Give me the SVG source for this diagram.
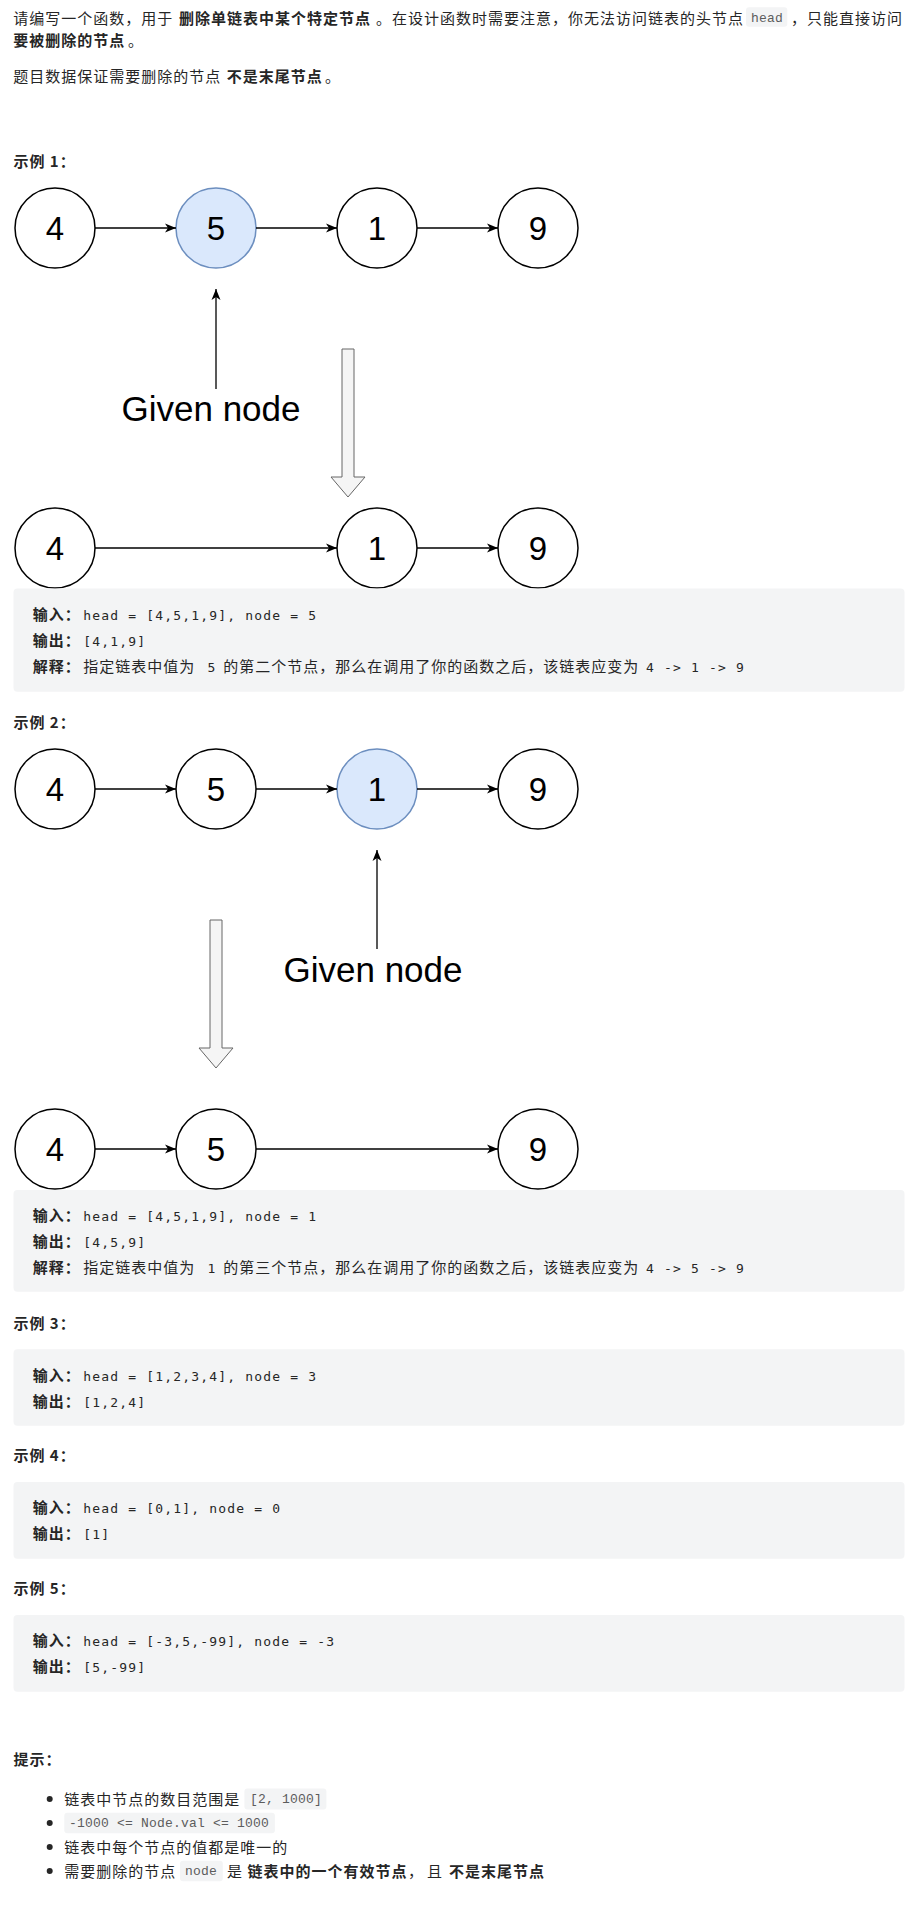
<svg xmlns="http://www.w3.org/2000/svg" width="913" height="1907" viewBox="0 0 913 1907">
<style>
.t{font-family:"Noto Sans CJK SC","Noto Sans",sans-serif;font-size:15px;letter-spacing:1px;fill:#262626}
.b{font-weight:bold}
.m{font-family:"DejaVu Sans Mono",monospace;font-size:13px;letter-spacing:1.17px;fill:#262626}
.c{font-family:"Liberation Mono",monospace;font-size:13px;letter-spacing:0.2px;fill:#5c5c5c}
.chip{fill:#f3f4f5}
.blk{fill:#f3f4f5}
.n circle{fill:#fff;stroke:#000;stroke-width:1.5}
.n.hl circle{fill:#dae8fc;stroke:#6c8ebf}
.num{font-family:"Liberation Sans",Arial,sans-serif;font-size:33px;text-anchor:middle;fill:#000}
.gn{font-family:"Liberation Sans",Arial,sans-serif;font-size:35px;text-anchor:middle;fill:#000}
.edge{stroke:#000;stroke-width:1.5;fill:none;marker-end:url(#ah)}
.ptr{stroke:#222;stroke-width:1.5;fill:none;marker-end:url(#ah)}
.big{fill:#f5f5f5;stroke:#666;stroke-width:1}
</style>
<defs>
<marker id="ah" viewBox="0 0 12 10" refX="11" refY="5" markerWidth="12" markerHeight="10" markerUnits="userSpaceOnUse" orient="auto"><path d="M0,0.5 L11,5 L0,9.5 L3,5 z" fill="#000"/></marker>
</defs>
<rect width="913" height="1907" fill="#fff"/>

<g id="intro">
<text class="t" x="13.3" y="24">请编写一个函数，用于</text>
<text class="t b" x="179" y="24">删除单链表中某个特定节点</text>
<text class="t" x="376" y="24">。在设计函数时需要注意，你无法访问链表的头节点</text>
<rect class="chip" x="746" y="7.3" width="41.3" height="19.4" rx="3"/>
<text class="c" x="751" y="21.5">head</text>
<text class="t" x="791" y="24">，</text>
<text class="t" x="807" y="24">只能直接访问</text>
<text class="t b" x="13.3" y="45.5">要被删除的节点</text>
<text class="t" x="128" y="45.5">。</text>
<text class="t" x="13.3" y="81.5">题目数据保证需要删除的节点</text>
<text class="t b" x="226.7" y="81.5">不是末尾节点</text>
<text class="t" x="325" y="81.5">。</text>
</g>

<g id="ex1-title"><text class="t b" x="13.4" y="166.7">示例 1：</text></g>

<g id="ex1-n4" class="n"><circle cx="55" cy="228" r="40"/><text class="num" x="55" y="239.8">4</text></g>
<g id="ex1-n5" class="n hl"><circle cx="216" cy="228" r="40"/><text class="num" x="216" y="239.8">5</text></g>
<g id="ex1-n1" class="n"><circle cx="377" cy="228" r="40"/><text class="num" x="377" y="239.8">1</text></g>
<g id="ex1-n9" class="n"><circle cx="538" cy="228" r="40"/><text class="num" x="538" y="239.8">9</text></g>
<g id="ex1-given"><text class="gn" x="211" y="420.7">Given node</text></g>
<g id="ex1-bigarrow"><polygon class="big" points="342,349 354,349 354,477 365,477 348,497 331,477 342,477"/></g>
<g id="ex1b-n4" class="n"><circle cx="55" cy="548" r="40"/><text class="num" x="55" y="559.8">4</text></g>
<g id="ex1b-n1" class="n"><circle cx="377" cy="548" r="40"/><text class="num" x="377" y="559.8">1</text></g>
<g id="ex1b-n9" class="n"><circle cx="538" cy="548" r="40"/><text class="num" x="538" y="559.8">9</text></g>

<g id="ex1-code">
<rect class="blk" x="13.5" y="588.5" width="891" height="103.2" rx="4"/>
<text class="t b" x="32.7" y="620">输入：</text><text class="m" x="83.3" y="620">head = [4,5,1,9], node = 5</text>
<text class="t b" x="32.7" y="646">输出：</text><text class="m" x="83.3" y="646">[4,1,9]</text>
<text class="t b" x="32.7" y="672">解释：</text><text class="t" x="83.3" y="672">指定链表中值为</text><text class="m" x="207.5" y="672">5</text><text class="t" x="223.3" y="672">的第二个节点，那么在调用了你的函数之后，该链表应变为</text><text class="m" x="646" y="672">4 -&gt; 1 -&gt; 9</text>
</g>

<g id="ex2-title"><text class="t b" x="13.4" y="727.7">示例 2：</text></g>

<g id="ex2-n4" class="n"><circle cx="55" cy="789" r="40"/><text class="num" x="55" y="800.8">4</text></g>
<g id="ex2-n5" class="n"><circle cx="216" cy="789" r="40"/><text class="num" x="216" y="800.8">5</text></g>
<g id="ex2-n1" class="n hl"><circle cx="377" cy="789" r="40"/><text class="num" x="377" y="800.8">1</text></g>
<g id="ex2-n9" class="n"><circle cx="538" cy="789" r="40"/><text class="num" x="538" y="800.8">9</text></g>
<g id="ex2-given"><text class="gn" x="373" y="981.7">Given node</text></g>
<g id="ex2-bigarrow"><polygon class="big" points="210,920 222,920 222,1048 233,1048 216,1068 199,1048 210,1048"/></g>
<g id="ex2b-n4" class="n"><circle cx="55" cy="1149" r="40"/><text class="num" x="55" y="1160.8">4</text></g>
<g id="ex2b-n5" class="n"><circle cx="216" cy="1149" r="40"/><text class="num" x="216" y="1160.8">5</text></g>
<g id="ex2b-n9" class="n"><circle cx="538" cy="1149" r="40"/><text class="num" x="538" y="1160.8">9</text></g>

<g id="ex2-code">
<rect class="blk" x="13.5" y="1190" width="891" height="101.7" rx="4"/>
<text class="t b" x="32.7" y="1221">输入：</text><text class="m" x="83.3" y="1221">head = [4,5,1,9], node = 1</text>
<text class="t b" x="32.7" y="1247">输出：</text><text class="m" x="83.3" y="1247">[4,5,9]</text>
<text class="t b" x="32.7" y="1273">解释：</text><text class="t" x="83.3" y="1273">指定链表中值为</text><text class="m" x="207.5" y="1273">1</text><text class="t" x="223.3" y="1273">的第三个节点，那么在调用了你的函数之后，该链表应变为</text><text class="m" x="646" y="1273">4 -&gt; 5 -&gt; 9</text>
</g>

<g id="ex3">
<text class="t b" x="13.4" y="1329">示例 3：</text>
<rect class="blk" x="13.5" y="1349.3" width="891" height="76.4" rx="4"/>
<text class="t b" x="32.7" y="1380.5">输入：</text><text class="m" x="83.3" y="1380.5">head = [1,2,3,4], node = 3</text>
<text class="t b" x="32.7" y="1406.5">输出：</text><text class="m" x="83.3" y="1406.5">[1,2,4]</text>
</g>

<g id="ex4">
<text class="t b" x="13.4" y="1460.7">示例 4：</text>
<rect class="blk" x="13.5" y="1482" width="891" height="76.7" rx="4"/>
<text class="t b" x="32.7" y="1513">输入：</text><text class="m" x="83.3" y="1513">head = [0,1], node = 0</text>
<text class="t b" x="32.7" y="1539">输出：</text><text class="m" x="83.3" y="1539">[1]</text>
</g>

<g id="ex5">
<text class="t b" x="13.4" y="1594">示例 5：</text>
<rect class="blk" x="13.5" y="1615" width="891" height="76.7" rx="4"/>
<text class="t b" x="32.7" y="1645.5">输入：</text><text class="m" x="83.3" y="1645.5">head = [-3,5,-99], node = -3</text>
<text class="t b" x="32.7" y="1671.5">输出：</text><text class="m" x="83.3" y="1671.5">[5,-99]</text>
</g>

<g id="hints">
<text class="t b" x="13.4" y="1765">提示：</text>
<circle cx="49.7" cy="1799" r="3" fill="#262626"/>
<text class="t" x="64.3" y="1804.7">链表中节点的数目范围是</text>
<rect class="chip" x="244.4" y="1788.5" width="82" height="21" rx="3"/>
<text class="c" x="250" y="1803.3">[2, 1000]</text>
<circle cx="49.7" cy="1823" r="3" fill="#262626"/>
<rect class="chip" x="64.3" y="1812.7" width="210.6" height="20.5" rx="3"/>
<text class="c" x="69" y="1827.3">-1000 &lt;= Node.val &lt;= 1000</text>
<circle cx="49.7" cy="1847" r="3" fill="#262626"/>
<text class="t" x="64.3" y="1852.7">链表中每个节点的值都是唯一的</text>
<circle cx="49.7" cy="1871" r="3" fill="#262626"/>
<text class="t" x="64.3" y="1876.7">需要删除的节点</text>
<rect class="chip" x="180" y="1860.7" width="42.8" height="20.5" rx="3"/>
<text class="c" x="185" y="1875.3">node</text>
<text class="t" x="227" y="1876.7">是</text>
<text class="t b" x="247.4" y="1876.7">链表中的一个有效节点</text>
<text class="t" x="408" y="1876.7">，</text>
<text class="t" x="427" y="1876.7">且</text>
<text class="t b" x="449" y="1876.7">不是末尾节点</text>
</g>

<g id="connectors">
<path class="edge" d="M95,228 H176"/>
<path class="edge" d="M256,228 H337"/>
<path class="edge" d="M417,228 H498"/>
<path class="ptr" d="M216,389 V289"/>
<path class="edge" d="M95,548 H337"/>
<path class="edge" d="M417,548 H498"/>
<path class="edge" d="M95,789 H176"/>
<path class="edge" d="M256,789 H337"/>
<path class="edge" d="M417,789 H498"/>
<path class="ptr" d="M377,949 V850"/>
<path class="edge" d="M95,1149 H176"/>
<path class="edge" d="M256,1149 H498"/>
</g>
</svg>
